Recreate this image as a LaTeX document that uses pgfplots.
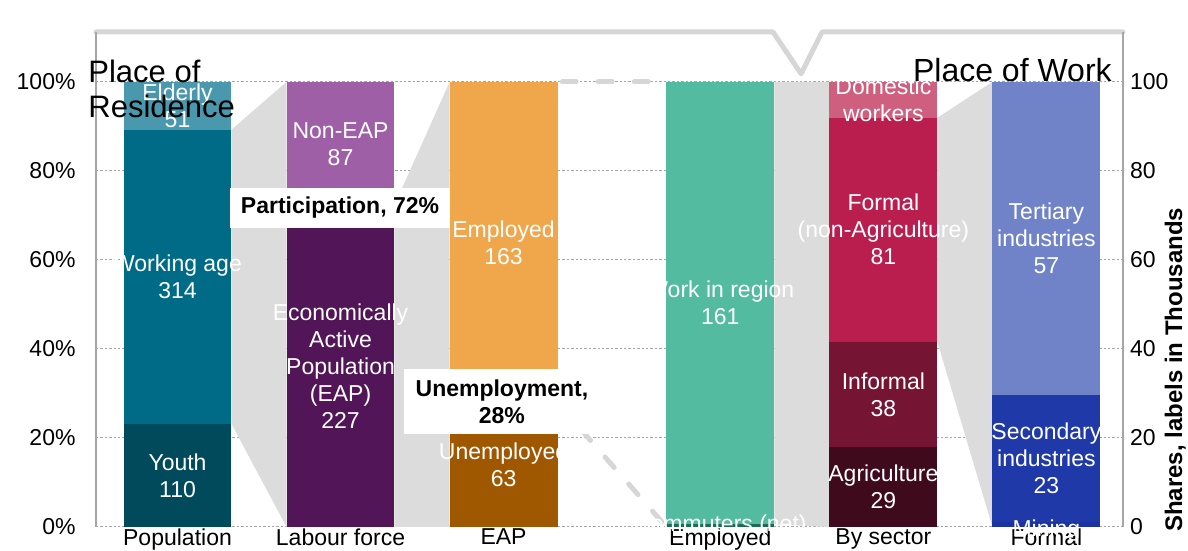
\documentclass[border=0pt]{standalone}
\usepackage{pgfplots}
\pgfplotsset{compat=1.18}
\usepackage{fontspec}
\setmainfont{Liberation Sans}
\definecolor{cYouth}{HTML}{004A5C}
\definecolor{cWork}{HTML}{006B87}
\definecolor{cOld}{HTML}{4A98AD}
\definecolor{cNonEAP}{HTML}{9E5FA6}
\definecolor{cEAP}{HTML}{521557}
\definecolor{cEmp}{HTML}{F0A64A}
\definecolor{cUnemp}{HTML}{A05800}
\definecolor{cRegion}{HTML}{53BBA0}
\definecolor{cComm}{HTML}{1A6E4F}
\definecolor{cDom}{HTML}{CF5F7F}
\definecolor{cFormal}{HTML}{B91E4F}
\definecolor{cInformal}{HTML}{751533}
\definecolor{cAgri}{HTML}{3F0A1B}
\definecolor{cTert}{HTML}{7083C8}
\definecolor{cSec}{HTML}{1F39A9}
\definecolor{cMin}{HTML}{1A33A0}
\definecolor{cConn}{HTML}{DCDCDC}
\definecolor{cBracket}{HTML}{D6D6D6}
\definecolor{cAxis}{HTML}{A6A6A6}
\tikzset{lbl/.style={white, align=center, inner sep=0pt, font=\fontsize{11.5}{13.5}\selectfont},
  box/.style={fill=white, inner sep=0pt, align=center, font=\bfseries\fontsize{11.5}{13.5}\selectfont}}
\begin{document}
\begin{tikzpicture}
\path[use as bounding box] (-48pt,-12pt) rectangle (546pt,263.5pt);
\pgfplotsset{base/.style={scale only axis, width=513.5pt, height=247.5pt,
  xmin=-0.5, xmax=5.8, ymin=0, ymax=111.2, clip=false,
  axis line style={draw=none}, major tick length=0pt,
  /pgf/number format/assume math mode=true,
  tick label style={font=\fontsize{11.5}{13}\selectfont}}}
% background axis: grid, connectors, bracket, right ticks
\begin{axis}[base, at={(0,0)}, anchor=south west,
  xtick=\empty, ytick={0,20,40,60,80,100}, yticklabel pos=right,
  ymajorgrids, grid style={cAxis, line width=0.5pt, dash pattern=on 1.2pt off 1pt},
  yticklabel style={anchor=west}]
\addplot[fill=cConn, draw=none] coordinates {(0.331,23.16)(0.331,89.26)(0.669,100)(0.669,0)};
\addplot[fill=cConn, draw=none] coordinates {(1.331,0)(1.331,72.29)(1.669,100)(1.669,0)};
\addplot[fill=cConn, draw=none] coordinates {(3.661,0.6)(3.661,100)(3.999,100)(3.999,0)};
\addplot[fill=cConn, draw=none] coordinates {(4.661,41.61)(4.661,91.93)(4.999,100)(4.999,0)};
\addplot[cBracket, line width=2.5pt, line cap=round, dash pattern=on 7pt off 11pt] coordinates {(2.36,100)(2.99,100)};
\addplot[cBracket, line width=2.5pt, line cap=round, dash pattern=on 7pt off 11pt] coordinates {(2.331,27.88)(2.999,0)};
\addplot[cBracket, line width=2.5pt, line cap=round, line join=round] coordinates {(-0.5,111.2)(3.653,111.2)(3.825,101.8)(3.954,111.2)(5.8,111.2)};
\addplot[cAxis, line width=1pt] coordinates {(-0.5,0)(-0.5,111.2)};
\addplot[cAxis, line width=1pt] coordinates {(5.8,0)(5.8,111.2)};
\end{axis}
% bars
\begin{axis}[base, at={(0,0)}, anchor=south west, ybar stacked, bar width=0.662,
  xtick=\empty, ytick=\empty]
% Population
\addplot[fill=cYouth, draw=none] coordinates {(0,23.16)(1,0)(2,0)(3.33,0)(4.33,0)(5.33,0)};
\addplot[fill=cWork, draw=none] coordinates {(0,66.11)(1,0)(2,0)(3.33,0)(4.33,0)(5.33,0)};
\addplot[fill=cOld, draw=none] coordinates {(0,10.73)(1,0)(2,0)(3.33,0)(4.33,0)(5.33,0)};
% Labour force
\addplot[fill=cEAP, draw=none] coordinates {(0,0)(1,72.29)(2,0)(3.33,0)(4.33,0)(5.33,0)};
\addplot[fill=cNonEAP, draw=none] coordinates {(0,0)(1,27.71)(2,0)(3.33,0)(4.33,0)(5.33,0)};
% EAP
\addplot[fill=cUnemp, draw=none] coordinates {(0,0)(1,0)(2,27.88)(3.33,0)(4.33,0)(5.33,0)};
\addplot[fill=cEmp, draw=none] coordinates {(0,0)(1,0)(2,72.12)(3.33,0)(4.33,0)(5.33,0)};
% Employed
\addplot[fill=cComm, draw=none] coordinates {(0,0)(1,0)(2,0)(3.33,0.6)(4.33,0)(5.33,0)};
\addplot[fill=cRegion, draw=none] coordinates {(0,0)(1,0)(2,0)(3.33,99.4)(4.33,0)(5.33,0)};
% By sector
\addplot[fill=cAgri, draw=none] coordinates {(0,0)(1,0)(2,0)(3.33,0)(4.33,18.01)(5.33,0)};
\addplot[fill=cInformal, draw=none] coordinates {(0,0)(1,0)(2,0)(3.33,0)(4.33,23.60)(5.33,0)};
\addplot[fill=cFormal, draw=none] coordinates {(0,0)(1,0)(2,0)(3.33,0)(4.33,50.31)(5.33,0)};
\addplot[fill=cDom, draw=none] coordinates {(0,0)(1,0)(2,0)(3.33,0)(4.33,8.08)(5.33,0)};
% Formal
\addplot[fill=cMin, draw=none] coordinates {(0,0)(1,0)(2,0)(3.33,0)(4.33,0)(5.33,1.23)};
\addplot[fill=cSec, draw=none] coordinates {(0,0)(1,0)(2,0)(3.33,0)(4.33,0)(5.33,28.40)};
\addplot[fill=cTert, draw=none] coordinates {(0,0)(1,0)(2,0)(3.33,0)(4.33,0)(5.33,70.37)};
\end{axis}
% labels, ticks, titles
\begin{axis}[base, at={(0,0)}, anchor=south west,
  xtick={0,1,2,3.33,4.33,5.33},
  xticklabels={Population,Labour force,EAP,Employed,By sector,Formal},
  xticklabel style={yshift=2.5pt},
  ytick={0,20,40,60,80,100},
  yticklabel={\pgfmathprintnumber{\tick}\%},
  yticklabel style={xshift=-6.7pt}]
\addplot[draw=none] coordinates {(0,0)};
\node[lbl] at (axis cs:0,94.63) {Elderly\\51};
\node[lbl] at (axis cs:0,56.2) {Working age\\314};
\node[lbl] at (axis cs:0,11.58) {Youth\\110};
\node[lbl] at (axis cs:1,86.1) {Non-EAP\\87};
\node[lbl] at (axis cs:1,36.1) {Economically\\Active\\Population\\(EAP)\\227};
\node[lbl] at (axis cs:2,63.94) {Employed\\163};
\node[lbl] at (axis cs:2,13.94) {Unemployed\\63};
\node[lbl] at (axis cs:3.33,50.3) {Work in region\\161};
\node[lbl] at (axis cs:3.33,0.3) {Commuters (net)};
\node[lbl] at (axis cs:4.33,95.96) {Domestic\\workers};
\node[lbl] at (axis cs:4.33,66.77) {Formal\\(non-Agriculture)\\81};
\node[lbl] at (axis cs:4.33,29.8) {Informal\\38};
\node[lbl] at (axis cs:4.33,9.0) {Agriculture\\29};
\node[lbl] at (axis cs:5.33,64.8) {Tertiary\\industries\\57};
\node[lbl] at (axis cs:5.33,15.4) {Secondary\\industries\\23};
\node[lbl] at (axis cs:5.33,-0.7) {Mining};
\node[box, minimum width=110pt, minimum height=20pt] at (axis cs:0.997,71.7) {Participation, 72\%};
\node[box, minimum width=97.5pt, minimum height=32.5pt] at (axis cs:1.99,28.1) {Unemployment,\\28\%};
\node[anchor=north west, align=left, inner sep=0pt, font=\fontsize{15.5}{17.5}\selectfont] at (axis cs:-0.549,105.1) {Place of\\Residence};
\node[anchor=base east, inner sep=0pt, font=\fontsize{16}{18}\selectfont] at (axis cs:5.733,100.1) {Place of Work};
\node[rotate=90, inner sep=0pt, font=\bfseries\fontsize{12}{14}\selectfont] at (axis cs:6.12,35.3) {Shares, labels in Thousands};
\end{axis}
\end{tikzpicture}
\end{document}
